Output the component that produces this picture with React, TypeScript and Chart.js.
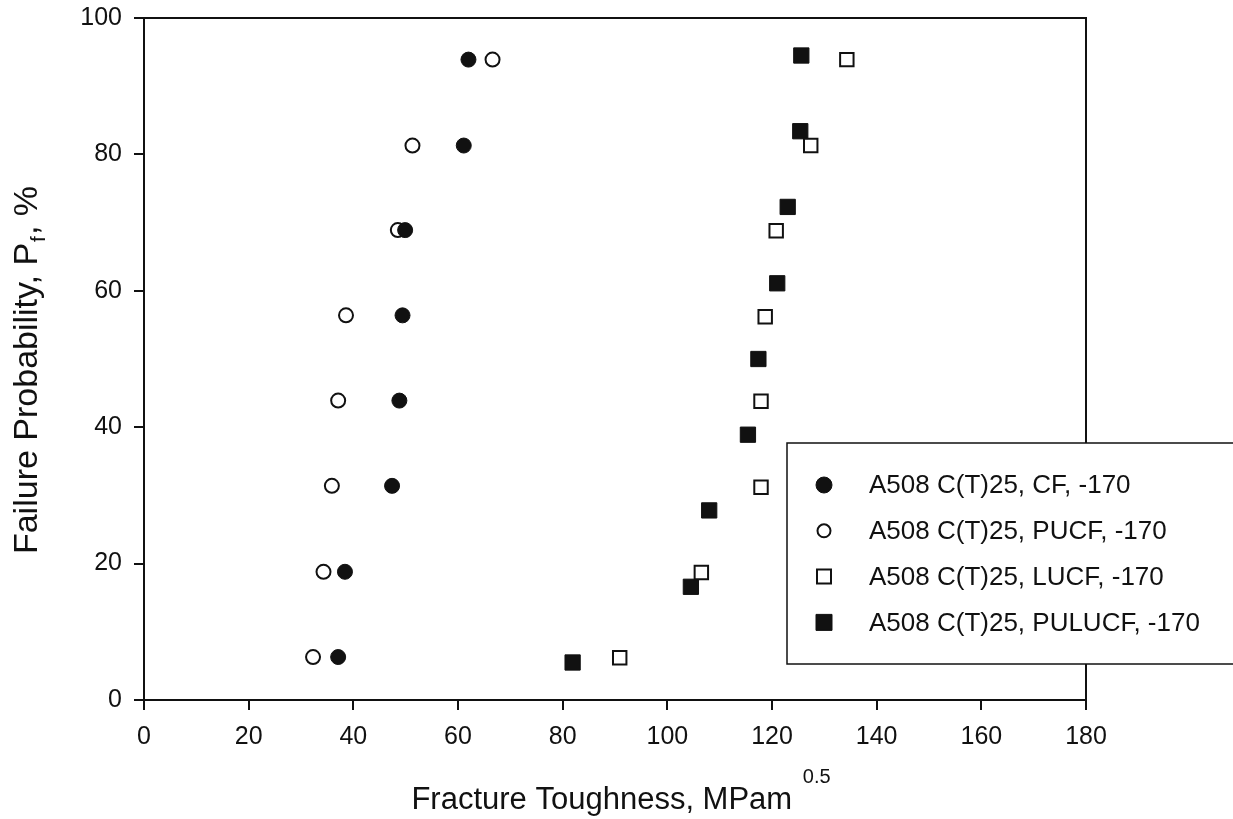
import React, { useEffect, useRef } from "react";
import { Chart, registerables } from "chart.js";

Chart.register(...registerables);

// ---- Data ----
const cfX = [62.0, 61.1, 49.9, 49.4, 48.8, 47.4, 38.4, 37.1];
const cfY = [93.9, 81.3, 68.9, 56.4, 43.9, 31.4, 18.8, 6.3];
const pucfX = [66.6, 51.3, 48.5, 38.6, 37.1, 35.9, 34.3, 32.3];
const pucfY = [93.9, 81.3, 68.9, 56.4, 43.9, 31.4, 18.8, 6.3];
const lucfX = [134.3, 127.4, 120.8, 118.7, 117.9, 117.9, 106.5, 90.9];
const lucfY = [93.9, 81.3, 68.8, 56.2, 43.8, 31.2, 18.7, 6.2];
const pulucfX = [125.6, 125.4, 123.0, 121.0, 117.4, 115.4, 108.0, 104.5, 81.9];
const pulucfY = [94.5, 83.4, 72.3, 61.1, 50.0, 38.9, 27.8, 16.6, 5.5];

const seriesLabels = [
  "A508 C(T)25, CF, -170",
  "A508 C(T)25, PUCF, -170",
  "A508 C(T)25, LUCF, -170",
  "A508 C(T)25, PULUCF, -170",
];

const xMin = 0, xMax = 180, xStep = 20;
const yMin = 0, yMax = 100, yStep = 20;

const xTitle = "Fracture Toughness, MPam";
const xTitleSup = "0.5";
const yTitleMain = "Failure Probability, P";
const yTitleSub = "f";
const yTitleEnd = ", %";

const FONT = "'Liberation Sans', Arial, Helvetica, sans-serif";
const INK = "#111111";

const pts = (xs: number[], ys: number[]) => xs.map((x, i) => ({ x, y: ys[i] }));

const framePlugin = {
  id: "frame",
  beforeDatasetsDraw(chart: any) {
    const { ctx, chartArea } = chart;
    ctx.save();
    ctx.strokeStyle = INK;
    ctx.lineWidth = 2;
    ctx.beginPath();
    ctx.moveTo(chartArea.left, chartArea.top);
    ctx.lineTo(chartArea.right, chartArea.top);
    ctx.lineTo(chartArea.right, chartArea.bottom);
    ctx.stroke();
    ctx.restore();
  },
};

const titlesPlugin = {
  id: "titles",
  afterDraw(chart: any) {
    const { ctx, chartArea } = chart;
    ctx.save();
    ctx.fillStyle = INK;
    ctx.textBaseline = "alphabetic";
    ctx.textAlign = "left";
    // X title
    ctx.font = `31px ${FONT}`;
    const mainW = ctx.measureText(xTitle + " ").width;
    ctx.font = `20px ${FONT}`;
    const supW = ctx.measureText(xTitleSup).width;
    const totalW = mainW + supW;
    const cx = (chartArea.left + chartArea.right) / 2 + 5;
    const x0 = cx - totalW / 2;
    const by = chartArea.bottom + 109;
    ctx.font = `31px ${FONT}`;
    ctx.fillText(xTitle + " ", x0, by);
    ctx.font = `20px ${FONT}`;
    ctx.fillText(xTitleSup, x0 + mainW + 2, by - 26);

    // Y title (rotated)
    ctx.save();
    const cy = (chartArea.top + chartArea.bottom) / 2;
    ctx.font = `34px ${FONT}`;
    const w1 = ctx.measureText(yTitleMain).width;
    const w3 = ctx.measureText(yTitleEnd).width;
    ctx.font = `21px ${FONT}`;
    const w2 = ctx.measureText(yTitleSub).width;
    const tot = w1 + w2 + w3;
    ctx.translate(37, cy + 12 + tot / 2);
    ctx.rotate(-Math.PI / 2);
    ctx.font = `34px ${FONT}`;
    ctx.fillText(yTitleMain, 0, 0);
    ctx.font = `21px ${FONT}`;
    ctx.fillText(yTitleSub, w1 + 1, 8);
    ctx.font = `34px ${FONT}`;
    ctx.fillText(yTitleEnd, w1 + w2 + 2, 0);
    ctx.restore();
    ctx.restore();
  },
};

const legendPlugin = {
  id: "customLegend",
  afterDraw(chart: any) {
    const { ctx, chartArea } = chart;
    const bx = chartArea.right - 299;
    const by = chartArea.top + 425;
    const bw = 470;
    const bh = 221;
    ctx.save();
    ctx.fillStyle = "#ffffff";
    ctx.fillRect(bx, by, bw, bh);
    ctx.strokeStyle = INK;
    ctx.lineWidth = 1.5;
    ctx.strokeRect(bx, by, bw, bh);
    const rowY0 = by + 42;
    const rowGap = 45.8;
    const mx = bx + 37;
    const tx = bx + 82;
    chart.data.datasets.forEach((ds: any, i: number) => {
      const y = rowY0 + i * rowGap;
      ctx.fillStyle = ds.backgroundColor;
      ctx.strokeStyle = ds.borderColor;
      if (ds.pointStyle === "circle") {
        const r = i === 0 ? 8 : 6.5;
        ctx.lineWidth = i === 0 ? 1 : 2;
        ctx.beginPath();
        ctx.arc(mx, y, r, 0, Math.PI * 2);
        ctx.fill();
        ctx.stroke();
      } else {
        const s = i === 3 ? 16 : 14;
        ctx.lineWidth = i === 3 ? 1 : 2;
        ctx.beginPath();
        ctx.rect(mx - s / 2, y - s / 2, s, s);
        ctx.fill();
        ctx.stroke();
      }
      ctx.fillStyle = INK;
      ctx.font = `26px ${FONT}`;
      ctx.textBaseline = "middle";
      ctx.textAlign = "left";
      ctx.fillText(ds.label, tx, y + 1);
    });
    ctx.restore();
  },
};

export default function App() {
  const ref = useRef<HTMLCanvasElement | null>(null);

  useEffect(() => {
    document.body.style.margin = "0";
    const canvas = ref.current;
    if (!canvas) return;
    const chart = new Chart(canvas, {
      type: "scatter",
      data: {
        datasets: [
          {
            label: seriesLabels[0],
            data: pts(cfX, cfY),
            pointStyle: "circle",
            pointRadius: 7.5,
            backgroundColor: INK,
            borderColor: INK,
            borderWidth: 1,
          },
          {
            label: seriesLabels[1],
            data: pts(pucfX, pucfY),
            pointStyle: "circle",
            pointRadius: 7,
            backgroundColor: "#ffffff",
            borderColor: INK,
            borderWidth: 2,
          },
          {
            label: seriesLabels[2],
            data: pts(lucfX, lucfY),
            pointStyle: "rect",
            pointRadius: 9.5,
            backgroundColor: "#ffffff",
            borderColor: INK,
            borderWidth: 2,
          },
          {
            label: seriesLabels[3],
            data: pts(pulucfX, pulucfY),
            pointStyle: "rect",
            pointRadius: 10.8,
            backgroundColor: INK,
            borderColor: INK,
            borderWidth: 1,
          },
        ] as any,
      },
      options: {
        animation: false,
        responsive: false,
        maintainAspectRatio: false,
        layout: { padding: { left: 0, top: 18, right: 147, bottom: 0 } },
        plugins: {
          legend: { display: false },
          tooltip: { enabled: false },
        },
        scales: {
          x: {
            type: "linear",
            min: xMin,
            max: xMax,
            afterFit: (s: any) => {
              s.height = 119;
              s.paddingLeft = 0;
              s.paddingRight = 0;
            },
            ticks: {
              stepSize: xStep,
              color: INK,
              font: { family: FONT, size: 25 },
              padding: 12,
              maxRotation: 0,
            },
            grid: {
              drawOnChartArea: false,
              drawTicks: true,
              tickLength: 10,
              color: INK,
              lineWidth: 2,
            },
            border: { color: INK, width: 2 },
          },
          y: {
            type: "linear",
            min: yMin,
            max: yMax,
            afterFit: (s: any) => {
              s.width = 144;
              s.paddingTop = 0;
              s.paddingBottom = 0;
            },
            ticks: {
              stepSize: yStep,
              color: INK,
              font: { family: FONT, size: 25 },
              padding: 12,
            },
            grid: {
              drawOnChartArea: false,
              drawTicks: true,
              tickLength: 10,
              color: INK,
              lineWidth: 2,
            },
            border: { color: INK, width: 2 },
          },
        },
      } as any,
      plugins: [framePlugin, legendPlugin, titlesPlugin],
    });
    return () => chart.destroy();
  }, []);

  return (
    <div style={{ width: 1233, height: 819, background: "#ffffff" }}>
      <canvas ref={ref} width={1233} height={819} style={{ display: "block" }} />
    </div>
  );
}
